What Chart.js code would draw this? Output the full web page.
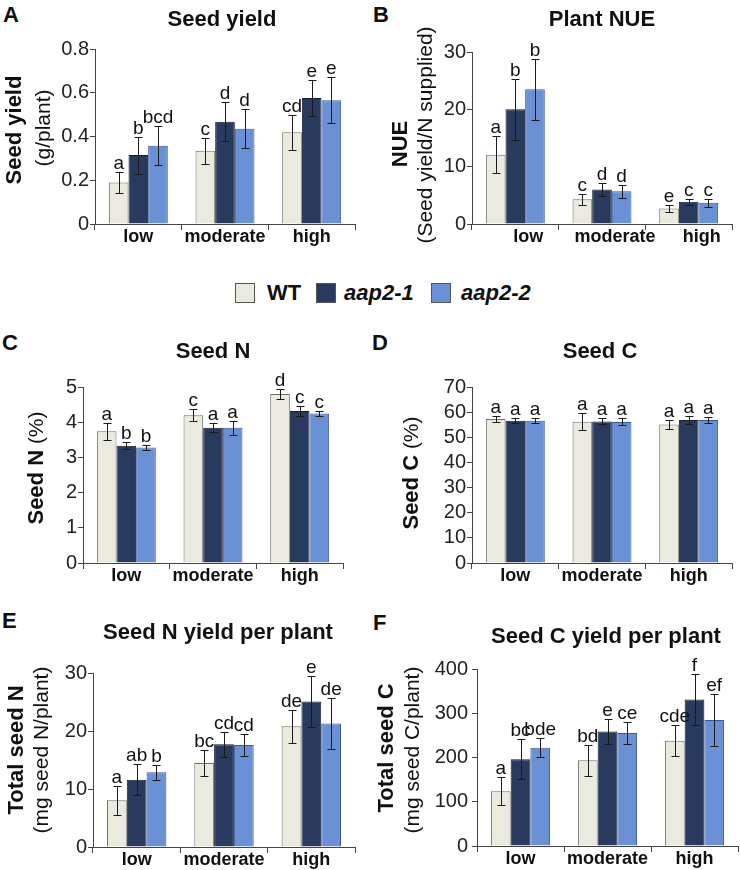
<!DOCTYPE html>
<html>
<head>
<meta charset="utf-8">
<script src="https://cdn.jsdelivr.net/npm/chart.js@4.4.1/dist/chart.umd.min.js"></script>
<style>
  body { margin: 0; background: #fff; width: 740px; height: 870px; position: relative; overflow: hidden;
         font-family: "Liberation Sans", Arial, sans-serif; color: #111; }
  canvas { position: absolute; }
  .tag { position: absolute; font-weight: bold; font-size: 22px; line-height: 22px; }
  .key { position: absolute; top: 283px; width: 20px; height: 20px; border: 1px solid #555; box-sizing: border-box; }
  .keytext { position: absolute; top: 282px; font-size: 22px; line-height: 22px; font-weight: bold; }
</style>
</head>
<body>
<div class="tag" style="left:3px;top:4px">A</div>
<div class="tag" style="left:373px;top:4px">B</div>
<div class="tag" style="left:2px;top:332px">C</div>
<div class="tag" style="left:372px;top:332px">D</div>
<div class="tag" style="left:2px;top:610px">E</div>
<div class="tag" style="left:373px;top:612px">F</div>

<div class="key" style="left:235px;background:#ebeadf"></div>
<div class="keytext" style="left:267px">WT</div>
<div class="key" style="left:316px;background:#283a5e"></div>
<div class="keytext" style="left:344px;font-style:italic">aap2-1</div>
<div class="key" style="left:431px;background:#6a90d6"></div>
<div class="keytext" style="left:461px;font-style:italic">aap2-2</div>

<canvas id="seedYield" width="370" height="250" style="left:0;top:0"></canvas>
<canvas id="plantNue" width="370" height="250" style="left:370px;top:0"></canvas>
<canvas id="seedN" width="370" height="270" style="left:0;top:320px"></canvas>
<canvas id="seedC" width="370" height="270" style="left:370px;top:320px"></canvas>
<canvas id="seedNYield" width="370" height="270" style="left:0;top:600px"></canvas>
<canvas id="seedCYield" width="370" height="270" style="left:370px;top:600px"></canvas>

<script>
const categories = ["low", "moderate", "high"];
const genotypes = ["WT", "aap2-1", "aap2-2"];
const fills = ["#ebeadf", "#283a5e", "#6a90d6"];
const edges = ["#6e6e6e", "#141c2e", "#3b5894"];

// one row per genotype (WT, aap2-1, aap2-2), one value per N level
const yieldMean = [[0.19, 0.335, 0.419], [0.315, 0.468, 0.576], [0.358, 0.436, 0.566]];
const yieldErr = [[0.05, 0.06, 0.08], [0.085, 0.09, 0.084], [0.09, 0.09, 0.105]];
const yieldLetters = [["a", "c", "cd"], ["b", "d", "e"], ["bcd", "d", "e"]];

const nueMean = [[12.1, 4.3, 2.7], [20.0, 6.0, 3.9], [23.5, 5.7, 3.7]];
const nueErr = [[3.2, 0.9, 0.6], [5.3, 1.1, 0.5], [5.3, 1.1, 0.7]];
const nueLetters = [["a", "c", "e"], ["b", "d", "c"], ["b", "d", "c"]];

const seedNMean = [[3.74, 4.2, 4.8], [3.33, 3.84, 4.32], [3.28, 3.84, 4.25]];
const seedNErr = [[0.25, 0.17, 0.14], [0.1, 0.13, 0.13], [0.07, 0.19, 0.08]];
const seedNLetters = [["a", "c", "d"], ["b", "a", "c"], ["b", "a", "c"]];

const seedCMean = [[57.3, 56.2, 55.1], [56.6, 56.3, 56.9], [56.6, 56.1, 56.9]];
const seedCErr = [[1.3, 3.5, 1.7], [1.0, 1.2, 1.6], [1.0, 1.4, 1.2]];
const seedCLetters = [["a", "a", "a"], ["a", "a", "a"], ["a", "a", "a"]];

const nYieldMean = [[8.05, 14.5, 20.8], [11.6, 17.7, 25.1], [12.9, 17.6, 21.3]];
const nYieldErr = [[2.5, 2.2, 2.8], [2.7, 2.1, 4.4], [1.3, 1.9, 4.4]];
const nYieldLetters = [["a", "bc", "de"], ["ab", "cd", "e"], ["b", "cd", "de"]];

const cYieldMean = [[124, 193.6, 238], [196, 258.6, 331], [222, 255.6, 285]];
const cYieldErr = [[32, 35, 35], [45, 29, 58], [21, 24, 58]];
const cYieldLetters = [["a", "bd", "cde"], ["bc", "e", "f"], ["bde", "ce", "ef"]];

const FAMILY = '"Liberation Sans", Arial, sans-serif';
const AXIS = "#444";
const BOLD = "bold 22px " + FAMILY;
const PLAIN = "21px " + FAMILY;

// error bars, significance letters, panel title and the two-style y titles
const decorations = {
  id: "decorations",
  afterDatasetsDraw(chart, args, opts) {
    const ctx = chart.ctx, y = chart.scales.y;
    ctx.save();
    chart.data.datasets.forEach((ds, i) => {
      chart.getDatasetMeta(i).data.forEach((bar, j) => {
        const x = Math.round(bar.x) + 0.5;
        const top = Math.round(y.getPixelForValue(ds.data[j] + ds.errors[j])) + 0.5;
        const bot = Math.round(y.getPixelForValue(ds.data[j] - ds.errors[j])) + 0.5;
        ctx.strokeStyle = "#1a1a1a";
        ctx.lineWidth = 1;
        ctx.beginPath();
        ctx.moveTo(x, top); ctx.lineTo(x, bot);
        ctx.moveTo(x - 4, top); ctx.lineTo(x + 4, top);
        ctx.moveTo(x - 4, bot); ctx.lineTo(x + 4, bot);
        ctx.stroke();
        ctx.fillStyle = "#111";
        ctx.font = "19px " + FAMILY;
        ctx.textAlign = "center";
        ctx.textBaseline = "alphabetic";
        ctx.fillText(ds.letters[j], bar.x, top - 4);
      });
    });

    ctx.fillStyle = "#111";
    ctx.font = BOLD;
    ctx.textAlign = "center";
    ctx.textBaseline = "alphabetic";
    ctx.fillText(opts.title, opts.titleX, opts.titleY);

    opts.yTitle.forEach(line => {
      ctx.save();
      ctx.translate(line.x, line.y);
      ctx.rotate(-Math.PI / 2);
      let total = 0;
      line.parts.forEach(p => { ctx.font = p[1]; total += ctx.measureText(p[0]).width; });
      let cx = -total / 2;
      ctx.textAlign = "left";
      line.parts.forEach(p => {
        ctx.font = p[1];
        ctx.fillText(p[0], cx, 0);
        cx += ctx.measureText(p[0]).width;
      });
      ctx.restore();
    });
    ctx.restore();
  }
};

function makePanel(id, means, errs, letters, L) {
  new Chart(document.getElementById(id), {
    type: "bar",
    data: {
      labels: categories,
      datasets: genotypes.map((g, i) => ({
        label: g,
        data: means[i],
        errors: errs[i],
        letters: letters[i],
        backgroundColor: fills[i],
        borderColor: edges[i],
        borderWidth: 1,
        categoryPercentage: 0.68,
        barPercentage: 1.0,
      })),
    },
    options: {
      responsive: false,
      animation: false,
      layout: { padding: { top: L.padT, left: 0, right: L.padR, bottom: 0 } },
      plugins: {
        legend: { display: false },
        tooltip: { enabled: false },
        decorations: L,
      },
      scales: {
        x: {
          grid: { offset: true, drawOnChartArea: false, drawTicks: true, tickLength: 6, color: AXIS },
          border: { color: AXIS },
          ticks: { font: { family: FAMILY, size: 18, weight: "bold" }, color: "#111", padding: -4,
                   autoSkip: false, maxRotation: 0, minRotation: 0,
                   labelOffset: L.labelOffset || 0 },
          afterFit: s => { s.height = L.xHeight; },
        },
        y: {
          min: 0,
          max: L.max,
          ticks: { stepSize: L.step, autoSkip: false, font: { family: FAMILY, size: 20 }, color: "#222",
                   padding: L.tickPad || 1 },
          grid: { drawOnChartArea: false, drawTicks: true, tickLength: 5, color: AXIS },
          border: { color: AXIS },
          afterFit: s => { s.width = L.yWidth; },
        },
      },
    },
    plugins: [decorations],
  });
}

makePanel("seedYield", yieldMean, yieldErr, yieldLetters, {
  padT: 49, padR: 15, yWidth: 95, xHeight: 26, max: 0.8, step: 0.2,
  title: "Seed yield", titleX: 222, titleY: 26,
  yTitle: [{ x: 21, y: 130, parts: [["Seed yield", BOLD]] },
           { x: 50, y: 128, parts: [["(g/plant)", PLAIN]] }],
});

makePanel("plantNue", nueMean, nueErr, nueLetters, {
  padT: 52, padR: 8, yWidth: 102, xHeight: 26, max: 30, step: 10, labelOffset: 13,
  title: "Plant NUE", titleX: 232, titleY: 26,
  yTitle: [{ x: 37, y: 144, parts: [["NUE", BOLD]] },
           { x: 62, y: 135, parts: [["(Seed yield/N supplied)", PLAIN]] }],
});

makePanel("seedN", seedNMean, seedNErr, seedNLetters, {
  padT: 67, padR: 27, yWidth: 83, xHeight: 27, max: 5, step: 1,
  title: "Seed N", titleX: 213, titleY: 38,
  yTitle: [{ x: 43, y: 148, parts: [["Seed N", BOLD], [" (%)", PLAIN]] }],
});

makePanel("seedC", seedCMean, seedCErr, seedCLetters, {
  padT: 67, padR: 8, yWidth: 102, xHeight: 27, max: 70, step: 10,
  title: "Seed C", titleX: 230, titleY: 38,
  yTitle: [{ x: 48, y: 153, parts: [["Seed C", BOLD], [" (%)", PLAIN]] }],
});

makePanel("seedNYield", nYieldMean, nYieldErr, nYieldLetters, {
  padT: 73, padR: 15, yWidth: 93, xHeight: 23, max: 30, step: 10,
  title: "Seed N yield per plant", titleX: 218, titleY: 39,
  yTitle: [{ x: 23, y: 150, parts: [["Total seed N", BOLD]] },
           { x: 48, y: 150, parts: [["(mg seed N/plant)", PLAIN]] }],
});

makePanel("seedCYield", cYieldMean, cYieldErr, cYieldLetters, {
  padT: 69, padR: 2, yWidth: 107, xHeight: 24, max: 400, step: 100, tickPad: 4,
  title: "Seed C yield per plant", titleX: 236, titleY: 43,
  yTitle: [{ x: 23, y: 148, parts: [["Total seed C", BOLD]] },
           { x: 49, y: 150, parts: [["(mg seed C/plant)", PLAIN]] }],
});
</script>
</body>
</html>
